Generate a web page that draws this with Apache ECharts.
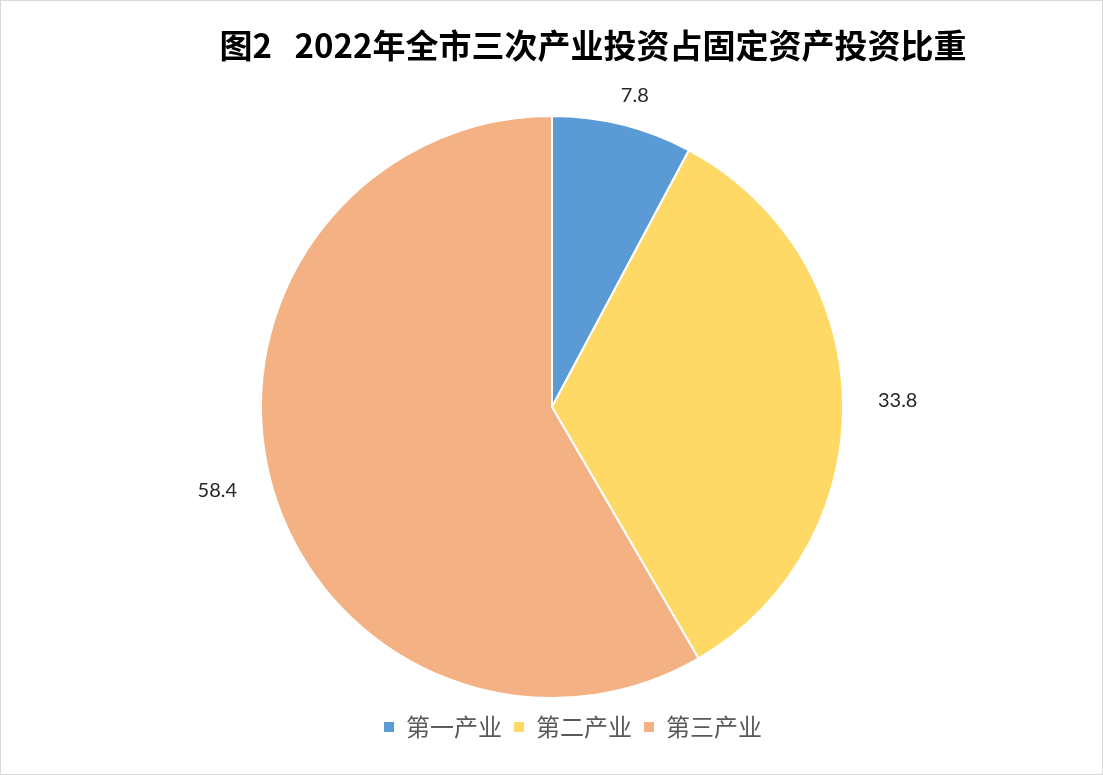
<!DOCTYPE html>
<html>
<head>
<meta charset="utf-8">
<script src="https://cdn.jsdelivr.net/npm/echarts@6/dist/echarts.min.js"></script>
<style>
  html, body { margin: 0; padding: 0; background: #fff; }
  #chart { position: absolute; left: 0; top: 0; width: 1101px; height: 773px; border: 1px solid #d9d9d9; }
</style>
</head>
<body>
<div id="chart"></div>
<script>
// 产业分类与占比(%)
var categories = ["第一产业", "第二产业", "第三产业"];
var shares = [7.8, 33.8, 58.4];
var colors = ["#5B9BD5", "#FFD966", "#F4B183"];
var titleText = "图2   2022年全市三次产业投资占固定资产投资比重";

var myChart = echarts.init(document.getElementById("chart"));

var pieData = [];
for (var i = 0; i < categories.length; i++) {
  var item = { name: categories[i], value: shares[i], itemStyle: { color: colors[i] } };
  // 7.8 的标签在原图中靠近扇区上方居中
  if (i === 0) {
    item.label = { offset: [-14, 0] };
  }
  pieData.push(item);
}

var option = {
  animation: false,
  title: {
    text: titleText,
    left: 587,
    textAlign: "center",
    top: 23,
    textStyle: {
      fontFamily: "Noto Sans CJK SC",
      fontWeight: "bold",
      fontSize: 33,
      color: "#000"
    }
  },
  legend: {
    data: categories,
    bottom: 30,
    left: 376,
    icon: "rect",
    itemWidth: 12,
    itemHeight: 12,
    itemGap: 10,
    textStyle: {
      fontFamily: "Noto Sans CJK SC",
      fontSize: 24,
      color: "#595959",
      padding: [0, 0, 0, 6]
    }
  },
  series: [{
    type: "pie",
    center: [551, 406],
    radius: [0, 291],
    startAngle: 90,
    clockwise: true,
    data: pieData,
    itemStyle: { borderColor: "#fff", borderWidth: 2 },
    label: {
      show: true,
      position: "outside",
      formatter: "{c}",
      fontFamily: "Lato",
      fontSize: 20,
      color: "#262626"
    },
    labelLine: { show: false, length: 30, length2: 0 },
    emphasis: { disabled: true }
  }]
};
myChart.setOption(option);
</script>
</body>
</html>
